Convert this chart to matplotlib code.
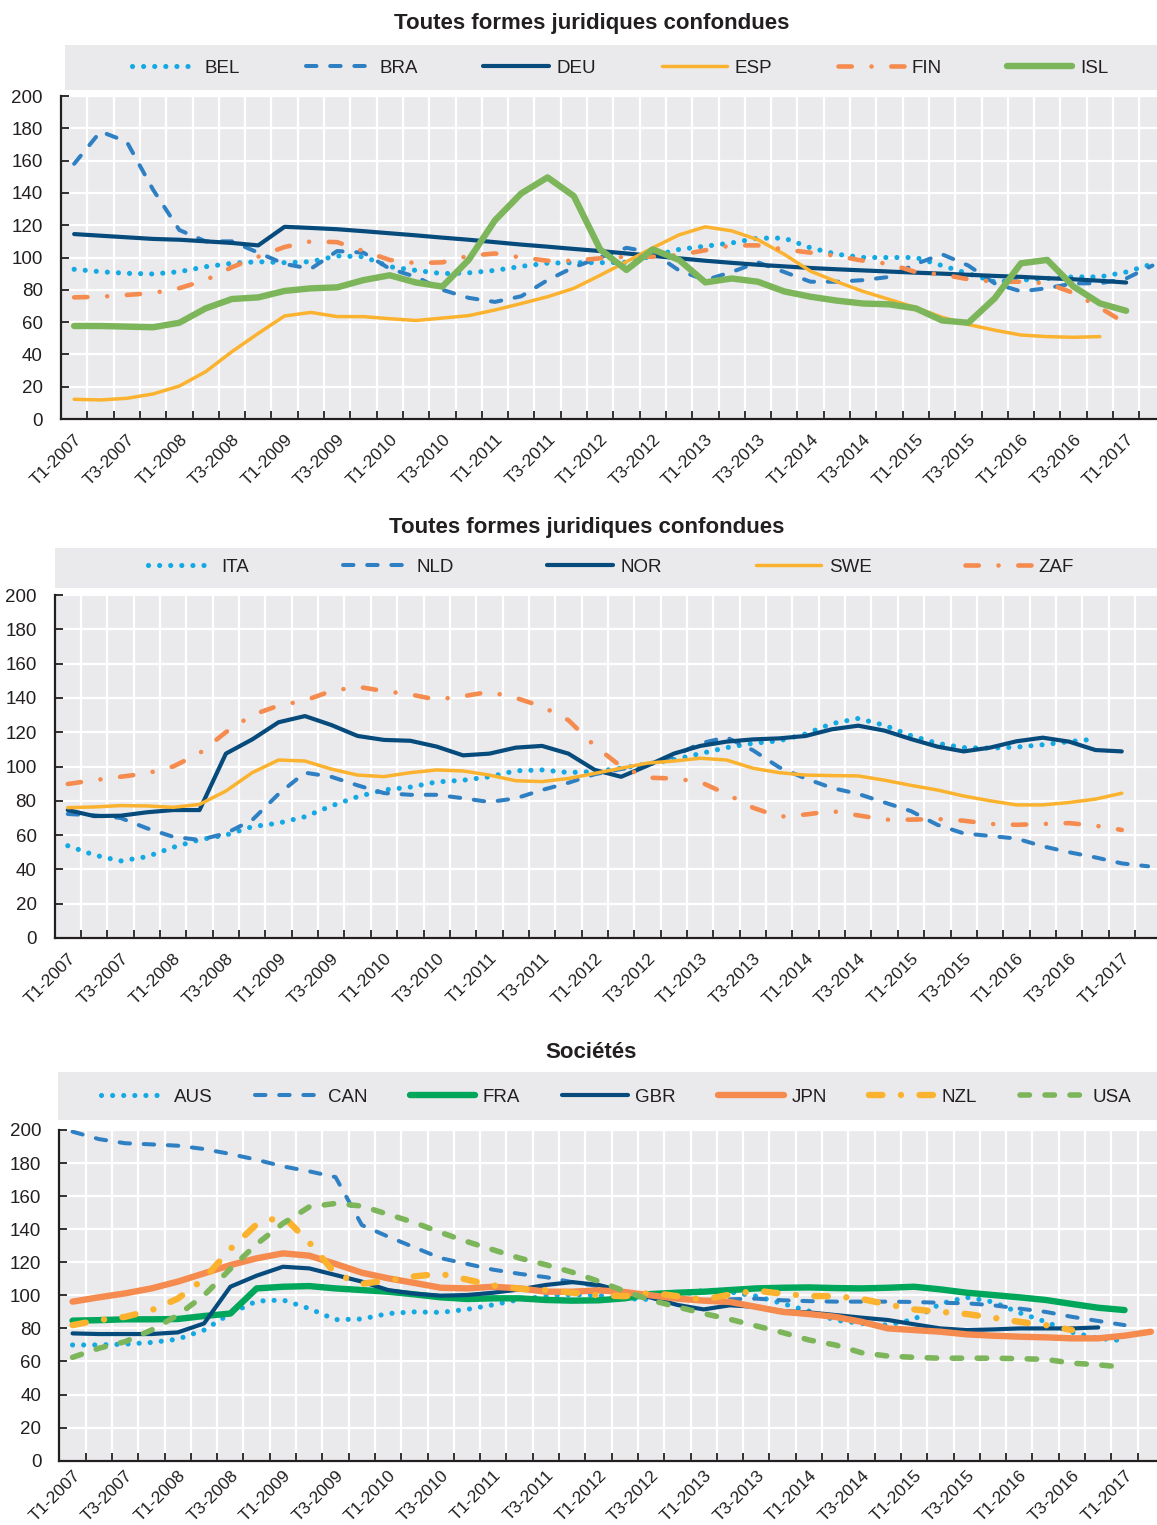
import numpy as np
import matplotlib
matplotlib.use("Agg")
import matplotlib.pyplot as plt
from matplotlib.patches import Rectangle

nan = np.nan
plt.rcParams['font.family'] = ['Liberation Sans', 'DejaVu Sans']

quarters = ["T1-2007", "T2-2007", "T3-2007", "T4-2007", "T1-2008", "T2-2008", "T3-2008", "T4-2008",
            "T1-2009", "T2-2009", "T3-2009", "T4-2009", "T1-2010", "T2-2010", "T3-2010", "T4-2010",
            "T1-2011", "T2-2011", "T3-2011", "T4-2011", "T1-2012", "T2-2012", "T3-2012", "T4-2012",
            "T1-2013", "T2-2013", "T3-2013", "T4-2013", "T1-2014", "T2-2014", "T3-2014", "T4-2014",
            "T1-2015", "T2-2015", "T3-2015", "T4-2015", "T1-2016", "T2-2016", "T3-2016", "T4-2016",
            "T1-2017", "T2-2017"]
tick_labels = ["T1-2007", "T3-2007", "T1-2008", "T3-2008", "T1-2009", "T3-2009", "T1-2010",
               "T3-2010", "T1-2011", "T3-2011", "T1-2012", "T3-2012", "T1-2013", "T3-2013",
               "T1-2014", "T3-2014", "T1-2015", "T3-2015", "T1-2016", "T3-2016", "T1-2017"]

titles = ["Toutes formes juridiques confondues", "Toutes formes juridiques confondues", "Sociétés"]

# ---------------- Panel 1 ----------------
BEL = [92.7, 91.2, 90.2, 89.8, 91.2, 94.3, 96.4, 97.4, 96.8, 97.4, 101, 100.5, 94.3, 92, 90, 90.5,
       92, 94.5, 96.5, 96.8, 96.8, 97, 101, 105, 107, 109, 112, 112, 106, 102, 100, 100,
       100, 95, 90, 85, 86, 87, 88, 88, 91, 96]
BRA = [158, 178, 171.7, 142, 117, 110, 110, 103, 96, 93, 104, 103, 93, 88, 80, 75,
       72.5, 76, 86, 94, 100, 106, 103, 92, 86, 91, 97, 91, 85, 85, 86, 88,
       96, 102, 95, 84, 79, 81, 84, 84, 87, 95]
DEU = [114.5, 113.5, 112.5, 111.5, 111, 110, 109, 107.5, 119, 118.3, 117.5, 116.3, 115, 113.7, 112.3, 111,
       109.5, 108, 106.7, 105.3, 104, 102.5, 101, 99.5, 98, 96.7, 95.5, 94.5, 93.5, 92.7, 92, 91.3,
       90.6, 90, 89.3, 88.6, 88, 87.2, 86.5, 85.6, 84.5, nan]
ESP = [12.2, 11.8, 12.8, 15.5, 20.4, 29.3, 41.7, 53, 63.8, 66, 63.4, 63.4, 62.1, 61, 62.5, 64,
       67.5, 71.5, 75.7, 80.9, 89, 97.4, 106, 114, 119, 116.5, 111, 102, 91.5, 85, 79, 74,
       69, 63, 58.5, 55, 52, 51, 50.6, 51, nan, nan]
FIN = [75.3, 75.7, 76.8, 78, 81, 86, 94, 100.5, 106.5, 110, 109.5, 104, 98.5, 96.5, 97, 101,
       102.5, 100, 98, 98, 99.5, 100.5, 100.5, 101.5, 104.5, 107.5, 107.5, 105, 103, 101, 98, 96,
       91, 89.5, 86.5, 85, 85, 84, 78, 69, 59, nan]
ISL = [57.6, 57.6, 57.2, 56.8, 59.6, 68.5, 74.3, 75.3, 79.3, 80.9, 81.5, 86, 89, 84.5, 82, 98.5,
       123, 139.7, 149.6, 138, 105, 92.3, 105, 98.5, 84.6, 87, 85, 79, 75.7, 73.3, 71.5, 71,
       68.5, 61, 59.6, 74.7, 96.4, 98.5, 82, 71.6, 67, nan]

# ---------------- Panel 2 ----------------
ITA = [53.8, 48.4, 44.9, 47.4, 52.9, 57.3, 60, 64.9, 67, 70.7, 77, 82.4, 86.3, 88, 91, 92,
       94, 97.5, 98, 96.5, 97, 99, 101.5, 104, 107.5, 111, 113.5, 115, 119, 125, 128, 124,
       118, 113.5, 111, 110.7, 111.3, 112.7, 114.5, 116, nan, nan]
NLD = [72.3, 71.5, 70, 64, 59, 57.2, 61, 68.8, 84, 96.4, 94, 89, 84.5, 83.5, 83.5, 81.5,
       79.3, 81.4, 86.3, 90.5, 95.5, 98.5, 101, 106, 113.5, 117, 109.5, 99.5, 93, 87.5, 84, 79,
       74, 66, 61, 59.5, 58, 53.5, 50, 47, 43.5, 41.8]
NOR = [74.6, 71.1, 71.3, 73.3, 74.6, 74.6, 107.5, 115.8, 125.8, 129.4, 124.2, 117.8, 115.5, 115, 111.6, 106.5,
       107.5, 111, 112, 107.5, 98, 94, 100.5, 107.5, 112, 114.5, 115.8, 116.4, 117.8, 121.7, 123.8, 120.9,
       116, 111.6, 108.8, 111, 114.7, 116.8, 114.5, 109.6, 108.8, nan]
SWE = [76, 76.4, 77.2, 77, 76.2, 77.9, 85.7, 96.4, 103.8, 103.2, 98.5, 95, 94.1, 96.4, 98, 97.4,
       95, 91.7, 91.2, 93, 96, 99, 102, 103.2, 104.8, 103.8, 99, 96.4, 95, 94.7, 94.5, 92,
       89, 86.3, 82.8, 80, 77.6, 77.6, 79, 81, 84.4, nan]
ZAF = [89.8, 92, 94, 96, 100, 107.7, 120, 130, 135.5, 138.5, 144, 146.5, 144, 142, 139, 141,
       143.5, 140, 135, 127, 112, 100, 93.5, 93, 91, 84, 76, 70.7, 72, 74, 71.5, 69,
       69, 69.4, 68.4, 66.5, 66, 66.5, 67, 65.5, 63, nan]

# ---------------- Panel 3 ----------------
AUS = [70, 70, 70.5, 71.5, 73.5, 79, 89, 96.5, 97.2, 92, 85.3, 85.7, 89, 90, 89.7, 91.5,
       94.3, 97.5, 99.5, 100.5, 100, 98, 97.5, 100, 103, 102, 99.5, 95, 90.5, 85, 83, 82,
       85.5, 95, 98.8, 96, 89.5, 84, 77.7, 74, 72.5, nan]
CAN = [199, 194.5, 192, 191.3, 190.5, 188.5, 185.5, 182, 178, 175, 171.5, 142.5, 135.5, 129, 122.5, 119,
       115.5, 113, 111, 108, 105.5, 102, 99, 97.5, 97.2, 97.6, 98, 97, 96.5, 96.2, 96.2, 96.2,
       96, 95.5, 95.2, 94, 92, 90, 87, 84.5, 82, nan]
FRA = [84.7, 85, 85.5, 85.5, 85.7, 87.5, 89, 104.2, 105.2, 105.6, 104.2, 103.2, 102.2, 100.6, 98.8, 97.8,
       98.2, 98.2, 97.2, 96.8, 97, 98.2, 100.8, 101.6, 102.2, 103.2, 104.2, 104.6, 104.8, 104.4, 104.2, 104.6,
       105.2, 103.6, 101.6, 100.2, 98.8, 97.2, 94.8, 92.5, 91.1, nan]
GBR = [77, 76.6, 76.6, 76.6, 77.6, 83, 105.2, 111.9, 117.3, 116.3, 112.3, 108.3, 103.2, 101, 99.8, 100.2,
       101.6, 103.6, 106.3, 108, 106.3, 102.2, 98.6, 94.2, 91.5, 94, 93, 90.5, 89.7, 88.1, 86.5, 85.1,
       82.5, 80, 79, 79.4, 80, 80, 80, 80.6, nan, nan]
JPN = [96.2, 98.8, 101.2, 104.2, 108.3, 113.3, 118.3, 122.4, 125.4, 124, 119, 113.7, 110.3, 107.5, 104.6, 104.2,
       105.2, 104.2, 102.2, 102.2, 103, 102, 100, 98, 96.8, 96, 93, 90, 88.7, 87, 84, 80,
       79, 78, 76.4, 75.6, 75, 74.6, 74, 74, 75.6, 78]
NZL = [82, 85, 87, 91, 98, 110, 128, 143, 148, 132, 113, 107, 109, 111.5, 113, 109.5,
       106, 104, 103.2, 101.6, 100, 99.5, 101.6, 99.5, 97.4, 100.5, 102.8, 101, 99.6, 99.5, 97.8, 94.5,
       91.5, 90, 88.7, 86.5, 84, 82, 79, nan, nan, nan]
USA = [62.5, 68, 72, 79, 88, 100, 116, 131, 143.5, 153.5, 155.6, 154, 149, 144, 138, 132.5,
       127.5, 122.5, 118.5, 114, 108.5, 102.5, 97, 93, 89, 85.5, 81.5, 77.5, 73, 70, 65.3, 63.3,
       62.5, 62, 62, 62, 61.7, 61.3, 59, 58, 56.5, nan]

# ---------------- styles ----------------
C_LBLUE = '#14A9E2'
C_MBLUE = '#2F80C3'
C_NAVY = '#064B7C'
C_YELLOW = '#FBB22E'
C_ORANGE = '#F58B4E'
C_LGREEN = '#7DB65A'
C_GREEN = '#00A75B'
BG = '#EAEAED'
TXT = '#231F20'

DOT = dict(linestyle=(0, (0.01, 2.15)), dash_capstyle='round', lw=3.7)
DASH = dict(linestyle=(0, (2.6, 3.4)), dash_capstyle='round', lw=2.9)
DASHDOT = dict(linestyle=(0, (2.9, 4.3, 0.01, 4.3)), dash_capstyle='round', lw=3.3)
SOLID_THIN = dict(linestyle='-', lw=2.5, solid_capstyle='round')
SOLID_MED = dict(linestyle='-', lw=3.0, solid_capstyle='round')
SOLID_THICK = dict(linestyle='-', lw=4.6, solid_capstyle='round')
NZL_STYLE = dict(linestyle=(0, (2.1, 2.9, 0.01, 2.9)), dash_capstyle='round', lw=4.6)
USA_STYLE = dict(linestyle=(0, (1.7, 2.8)), dash_capstyle='round', lw=4.0)

W, H = 1157, 1525
fig = plt.figure(figsize=(W / 100, H / 100), dpi=100)

x = np.arange(len(quarters))

panels = [
    dict(rect=(61, 96, 419), step=26.3, box=(65, 45, 1157, 90), legc=(620, 68), colsp=3.5,
         title_xy=(592, 23), pad=9,
         series=[("BEL", BEL, C_LBLUE, DOT), ("BRA", BRA, C_MBLUE, DASH), ("DEU", DEU, C_NAVY, SOLID_MED),
                 ("ESP", ESP, C_YELLOW, SOLID_THIN), ("FIN", FIN, C_ORANGE, DASHDOT),
                 ("ISL", ISL, C_LGREEN, SOLID_THICK)]),
    dict(rect=(54.6, 595, 938), step=26.35, box=(55, 548, 1157, 588), legc=(611, 567), colsp=5.0,
         title_xy=(587, 528), pad=9,
         series=[("ITA", ITA, C_LBLUE, DOT), ("NLD", NLD, C_MBLUE, DASH), ("NOR", NOR, C_NAVY, SOLID_MED),
                 ("SWE", SWE, C_YELLOW, SOLID_THIN), ("ZAF", ZAF, C_ORANGE, DASHDOT)]),
    dict(rect=(59.4, 1130, 1460.7), step=26.3, box=(58, 1072, 1157, 1120), legc=(616, 1097), colsp=2.25,
         title_xy=(591, 1053), pad=5,
         series=[("AUS", AUS, C_LBLUE, DOT), ("CAN", CAN, C_MBLUE, DASH), ("FRA", FRA, C_GREEN, SOLID_THICK),
                 ("GBR", GBR, C_NAVY, SOLID_MED), ("JPN", JPN, C_ORANGE, SOLID_THICK),
                 ("NZL", NZL, C_YELLOW, NZL_STYLE), ("USA", USA, C_LGREEN, USA_STYLE)]),
]

FS = 13.5
XFS = 12.5
for k, p in enumerate(panels):
    left, top, bottom = p['rect']
    ax = fig.add_axes([left / W, (H - bottom) / H, (W - left) / W, (bottom - top) / H])
    ax.set_facecolor(BG)
    right_lim = -0.5 + (W - left) / p['step']
    ax.set_xlim(-0.5, right_lim)
    ax.set_ylim(0, 200)

    handles = []
    for name, vals, col, st in p['series']:
        ln, = ax.plot(x, vals, color=col, label=name, **st)
        handles.append(ln)

    ax.set_xticks(x[::2])
    ax.set_xticklabels(tick_labels, rotation=45, ha='right', va='top', rotation_mode='anchor',
                       fontsize=XFS, color=TXT)
    ax.set_xticks(np.arange(0.5, len(quarters) - 0.5, 1.0), minor=True)
    ax.tick_params(axis='x', which='major', length=0, pad=p['pad'])
    ax.tick_params(axis='x', which='minor', length=6, width=1.3, direction='in', color=TXT)
    ax.set_yticks(np.arange(0, 201, 20))
    ax.tick_params(axis='y', which='major', length=6, width=1.3, direction='in', pad=13,
                   labelsize=FS, color=TXT, labelcolor=TXT)
    ax.grid(True, axis='x', which='minor', color='white', lw=1.6)
    ax.grid(True, axis='y', which='major', color='white', lw=1.6)
    ax.grid(False, axis='x', which='major')
    ax.set_axisbelow(True)
    for s in ['top', 'right']:
        ax.spines[s].set_visible(False)
    for s in ['left', 'bottom']:
        ax.spines[s].set_color(TXT)
        ax.spines[s].set_linewidth(1.6)

    bx0, by0, bx1, by1 = p['box']
    fig.add_artist(Rectangle((bx0 / W, (H - by1) / H), (bx1 - bx0) / W, (by1 - by0) / H,
                             transform=fig.transFigure, facecolor=BG, edgecolor='none', zorder=0))
    cx, cy = p['legc']
    fig.legend(handles=handles, labels=[h.get_label() for h in handles], loc='center',
               bbox_to_anchor=(cx / W, (H - cy) / H), ncol=len(handles), frameon=False,
               handlelength=3.5, handletextpad=0.4, columnspacing=p['colsp'], fontsize=FS,
               labelcolor=TXT)
    tx, ty = p['title_xy']
    fig.text(tx / W, (H - ty) / H, titles[k], ha='center', va='center', fontsize=16,
             fontweight='bold', color=TXT)

fig.savefig("out.png", dpi=100)
